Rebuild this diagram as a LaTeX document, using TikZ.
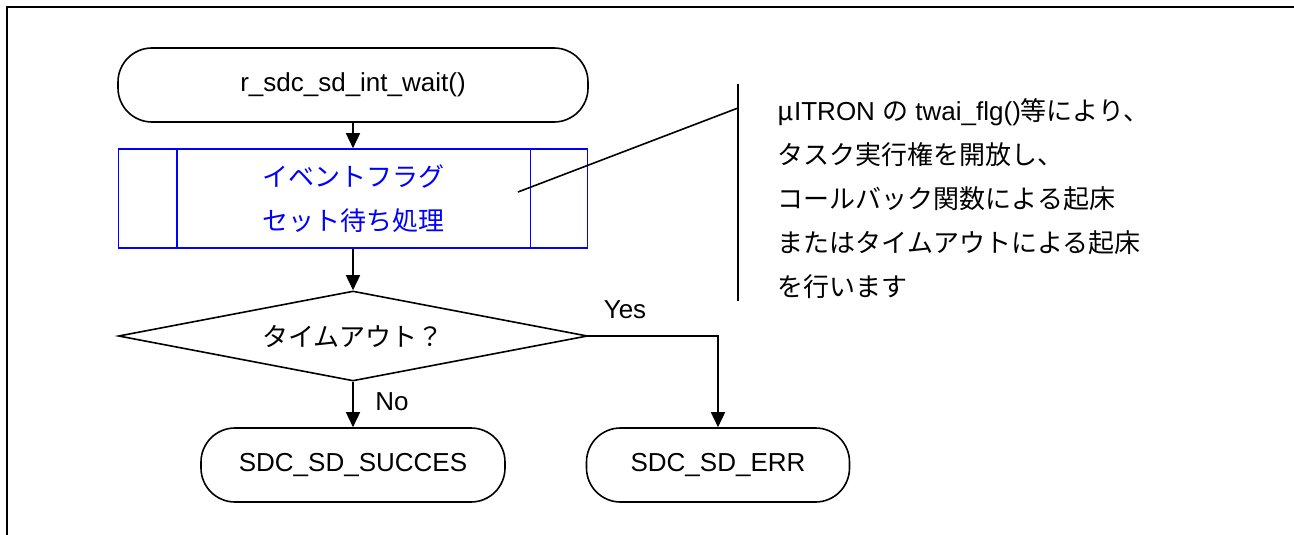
\documentclass[tikz,border=0pt]{standalone}
\usepackage{fontspec}
\setmainfont{Liberation Sans}
\newfontfamily\jpfont{Noto Sans CJK JP}
\usetikzlibrary{shapes.geometric,arrows.meta,calc}

\begin{document}
\begin{tikzpicture}[x=1pt, y=-1pt, line width=1.6pt,
		every node/.style={font=\fontsize{26}{44}\selectfont},
		terminal/.style={rectangle, rounded corners=34pt, draw=black,
			minimum height=74pt, inner sep=0pt},
		procbox/.style={rectangle, draw=blue, text=blue, align=center,
			minimum width=469pt, minimum height=99pt, inner sep=0pt},
		decision/.style={diamond, aspect=5.2, draw=black,
			minimum width=469pt, minimum height=90pt, inner sep=0pt},
		flow/.style={-{Triangle[length=15pt, width=14pt]}}
	]
		\useasboundingbox (0,0) rectangle (1294,535);
		\draw[line width=2pt] (7,535) -- (7,7) -- (1294,7);

		\node[terminal, minimum width=470pt] (start) at (353,85) {r\_sdc\_sd\_int\_wait()};
		\node[procbox] (wait) at (353,198.5)
		{{\jpfont イベントフラグ}\\{\jpfont セット待ち処理}};
		\draw[blue] ($(wait.north west)+(59,0)$) -- ($(wait.south west)+(59,0)$);
		\draw[blue] ($(wait.north east)+(-58,0)$) -- ($(wait.south east)+(-58,0)$);
		\node[decision] (timeout) at (353,336) {\jpfont タイムアウト？};
		\node[terminal, minimum width=304pt] (success) at (353,465) {SDC\_SD\_SUCCES};
		\node[terminal, minimum width=263pt] (error) at (718,465) {SDC\_SD\_ERR};

		\draw[flow] (start) -- (wait);
		\draw[flow] (wait) -- (timeout);
		\draw[flow] (timeout) -- (success);
		\draw[flow] (timeout.east) -| (error);
		\node (no) at (392,402) {No};
		\node (yes) at (625,310) {Yes};

		% comment attached to the wait box
		\coordinate (notetop) at (738,84);
		\coordinate (notebot) at (738,301);
		\coordinate (notehit) at (738,108);
		\coordinate (notefoot) at (518,192);
		\draw (notetop) -- (notebot);
		\draw (notefoot) -- (notehit);
		\node[anchor=north west, align=left, inner sep=0pt] (note) at (777,98)
		{{\jpfont μ}ITRON {\jpfont の} twai\_flg(){\jpfont 等により、}\\
			{\jpfont タスク実行権を開放し、}\\
			{\jpfont コールバック関数による起床}\\
			{\jpfont またはタイムアウトによる起床}\\
			{\jpfont を行います}};
	\end{tikzpicture}
\end{document}
